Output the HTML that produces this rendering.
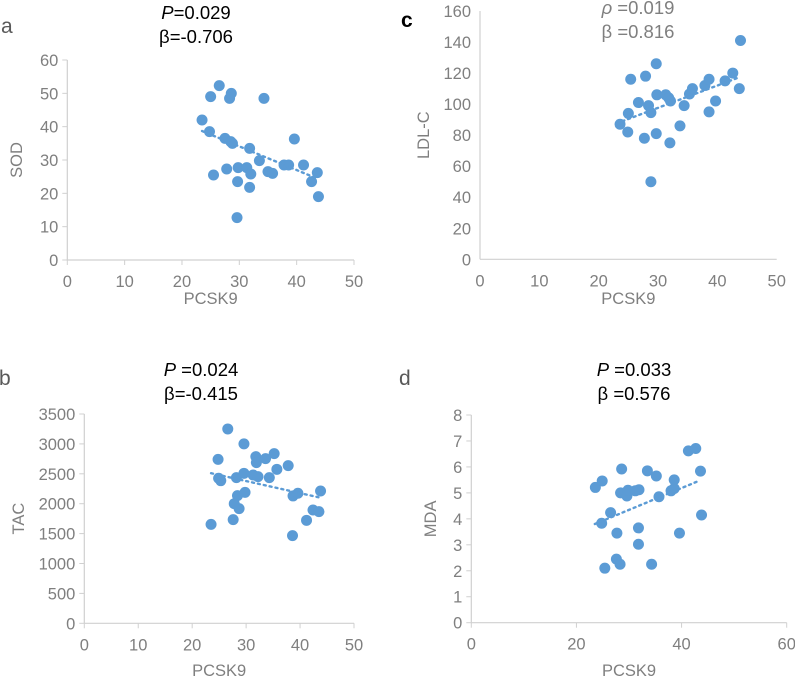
<!DOCTYPE html>
<html><head><meta charset="utf-8">
<style>
body{margin:0;background:#fff;width:795px;height:678px;overflow:hidden;font-family:"Liberation Sans",sans-serif}
svg text{font-family:"Liberation Sans","DejaVu Sans",sans-serif}
</style></head>
<body>
<svg id="fig" width="795" height="678" viewBox="0 0 795 678" xmlns="http://www.w3.org/2000/svg"></svg>
<script>
// Panel a: SOD vs PCSK9
const aX = [23.5,25,24.8,25.5,26.5,27.5,27.8,28.3,28.6,28.5,28.8,29.6,29.8,29.7,31.3,31.8,32,31.8,33.5,34.3,35,35.8,37.8,38.6,39.6,41.2,42.6,43.6,43.8];
const aY = [42,49,38.5,25.5,52.3,36.5,27.3,48.5,50,35.5,35,12.7,27.7,23.5,27.7,33.5,25.8,21.8,29.8,48.5,26.5,26,28.5,28.5,36.3,28.5,23.5,26.2,19];
const aTrend = [[23.5,38.7],[43.5,24.5]];
const aYTicks = [0,10,20,30,40,50,60];
const aXTicks = [0,10,20,30,40,50];
// Panel c: LDL-C vs PCSK9
const cX = [23.6,25,24.9,25.4,26.7,27.9,27.7,28.4,28.8,28.8,29.7,29.8,29.7,31.3,31.8,32.1,32,33.7,34.4,35.3,35.8,37.9,38.6,38.6,39.7,41.3,42.6,43.7,43.9];
const cY = [87,94,82,116,101,118,78,99,94.5,50,126,106,81,106,104,102,75,86,99,106.5,110,112,116,95,102,115,120,110,141];
const cTrend = [[24,89],[43.5,117]];
const cYTicks = [0,20,40,60,80,100,120,140,160];
const cXTicks = [0,10,20,30,40,50];
// Panel b: TAC vs PCSK9
const bX = [23.5,24.8,24.9,25.3,26.6,27.6,27.8,28.2,28.4,28.7,29.8,29.6,29.6,31.3,31.8,31.9,32.2,33.6,34.3,35.2,35.7,37.8,38.6,38.7,39.6,41.2,42.4,43.5,43.8];
const bY = [1655,2742,2425,2385,3250,1733,2000,2436,2135,1918,2190,3000,2508,2480,2787,2687,2453,2753,2436,2837,2575,2636,1466,2130,2174,1722,1895,1867,2213];
const bTrend = [[23.5,2510],[43.8,2100]];
const bYTicks = [0,500,1000,1500,2000,2500,3000,3500];
const bXTicks = [0,10,20,30,40,50];
// Panel d: MDA vs PCSK9
const dX = [23.6,24.9,24.8,25.4,26.5,27.7,27.6,28.3,28.6,28.4,29.6,29.8,31.2,31.9,31.8,31.8,33.5,34.3,35.2,35.7,38,38.6,38.6,39.6,41.3,42.7,43.6,43.8];
const dY = [5.21,5.46,3.83,2.1,4.24,3.45,2.45,2.25,5.92,5.0,4.88,5.1,5.08,5.12,3.65,3.02,5.85,2.25,5.65,4.85,5.08,5.17,5.5,3.45,6.62,6.71,5.84,4.15];
const dTrend = [[23.5,3.8],[43.5,5.48]];
const dYTicks = [0,1,2,3,4,5,6,7,8];
const dXTicks = [0,20,40,60];

const NS = 'http://www.w3.org/2000/svg';
const svg = document.getElementById('fig');
function mk(tag, attrs, parent, text){
  const e = document.createElementNS(NS, tag);
  for (const k in attrs) e.setAttribute(k, attrs[k]);
  if (text !== undefined) e.textContent = text;
  (parent || svg).appendChild(e);
  return e;
}
function panel(id, box, xs, ys, trend, xt, yt, ytitle, xtitleY, ticks){
  const g = mk('g', {});
  
  
  const xmin = xt[0], xmax = xt[xt.length-1], ymin = yt[0], ymax = yt[yt.length-1];
  const sx = v => box.x0 + (v - xmin) / (xmax - xmin) * (box.x1 - box.x0);
  const sy = v => box.y0 - (v - ymin) / (ymax - ymin) * (box.y0 - box.y1);
  const ax = mk('line', {x1: box.x0, y1: box.y0, x2: box.x1, y2: box.y0, stroke: '#d0d0d0', 'stroke-width': 1.2}, g);
  
  
  const ay = mk('line', {x1: box.x0, y1: box.y0, x2: box.x0, y2: box.y1, stroke: '#d0d0d0', 'stroke-width': 1.2}, g);
  
  
  yt.forEach(v => {
    if (ticks) mk('line', {x1: box.x0 - 5, y1: sy(v), x2: box.x0, y2: sy(v), stroke: '#d0d0d0'}, g);
    const t = mk('text', {x: box.x0 - 9, y: sy(v) + 6, 'text-anchor': 'end', 'font-size': 16.5, fill: '#7f7f7f'}, g, v);
    
    
  });
  xt.forEach(v => {
    if (ticks) mk('line', {x1: sx(v), y1: box.y0, x2: sx(v), y2: box.y0 + 5, stroke: '#d0d0d0'}, g);
    const t = mk('text', {x: sx(v), y: box.y0 + 27, 'text-anchor': 'middle', 'font-size': 16.5, fill: '#7f7f7f'}, g, v);
    
    
  });
  const yc = (box.y0 + box.y1) / 2;
  const yTitle = mk('text', {x: box.ytx, y: yc, 'text-anchor': 'middle', 'font-size': 16.5, fill: '#7f7f7f', transform: 'rotate(-90 ' + box.ytx + ' ' + yc + ')'}, g, ytitle);
  
  
  const xTitle = mk('text', {x: (box.x0 + box.x1) / 2, y: xtitleY, 'text-anchor': 'middle', 'font-size': 16.5, fill: '#7f7f7f'}, g, 'PCSK9');
  
  
  xs.forEach((xv, i) => {
    const c = mk('circle', {cx: sx(xv), cy: sy(ys[i]), r: 5.5, fill: '#5b9bd5'}, g);
    
    
  });
  const tl = mk('line', {x1: sx(trend[0][0]), y1: sy(trend[0][1]), x2: sx(trend[1][0]), y2: sy(trend[1][1]), stroke: '#5b9bd5', 'stroke-width': 2.4, 'stroke-dasharray': '2 4', 'stroke-linecap': 'round'}, g);
  
  
}
panel('a', {x0: 67.3, x1: 354, y0: 260, y1: 60, ytx: 22}, aX, aY, aTrend, aXTicks, aYTicks, 'SOD', 304, true);
panel('c', {x0: 480, x1: 776.7, y0: 259.3, y1: 11, ytx: 429}, cX, cY, cTrend, cXTicks, cYTicks, 'LDL-C', 304, false);
panel('b', {x0: 84.3, x1: 354, y0: 623.3, y1: 414, ytx: 24}, bX, bY, bTrend, bXTicks, bYTicks, 'TAC', 676, true);
panel('d', {x0: 471.3, x1: 786.7, y0: 622.7, y1: 415, ytx: 436}, dX, dY, dTrend, dXTicks, dYTicks, 'MDA', 676, true);

function label(x, y, txt, name, opts){
  const t = mk('text', Object.assign({x: x, y: y, 'font-size': 21, fill: '#595959'}, opts || {}), svg, txt);
  
  
  return t;
}
label(1, 33, 'a', 'panel-label-a');
label(401, 27, 'c', 'panel-label-c', {fill: '#000', 'font-weight': 'bold'});
label(-1, 385, 'b', 'panel-label-b');
label(399, 385, 'd', 'panel-label-d');

function stat(cx, y, p, beta, name, color){
  const t1 = mk('text', {x: cx, y: y, 'text-anchor': 'middle', 'font-size': 18.5, fill: color}, svg);
  
  
  mk('tspan', {'font-style': 'italic'}, t1, p[0]);
  mk('tspan', {}, t1, p[1]);
  const t2 = mk('text', {x: cx, y: y + 24, 'text-anchor': 'middle', 'font-size': 18.5, fill: color}, svg, beta);
  
  
}
stat(196, 19, ['P', '=0.029'], 'β=-0.706', 'stat-a', '#000');
stat(638, 14, ['ρ', ' =0.019'], 'β =0.816', 'stat-c', '#7f7f7f');
stat(201, 376, ['P', ' =0.024'], 'β=-0.415', 'stat-b', '#000');
stat(634, 376, ['P', ' =0.033'], 'β =0.576', 'stat-d', '#000');
</script>
</body></html>
